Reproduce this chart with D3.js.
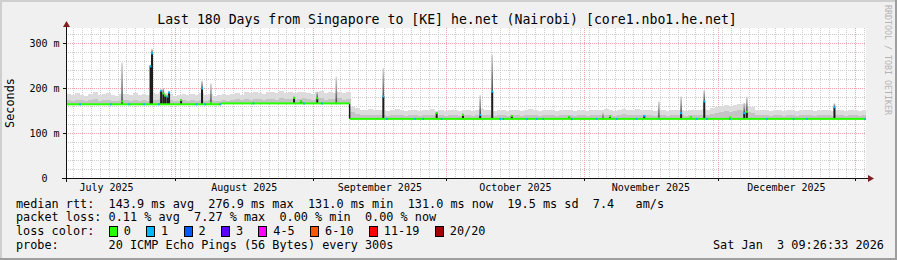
<!DOCTYPE html>
<html>
<head>
<meta charset="utf-8">
<script src="https://cdn.jsdelivr.net/npm/d3@7/dist/d3.min.js"></script>
<style>
html, body { margin: 0; padding: 0; background: #f0f0f0; }
svg { display: block; font-family: "DejaVu Sans Mono", monospace; }
text { white-space: pre; }
</style>
</head>
<body>
<svg id="chart" width="897" height="260"></svg>
<script>
// time range of the graph (UTC)
var startTime = "2025-07-07T09:26:33Z",
    endTime = "2026-01-03T09:26:33Z";

var titleText = "Last 180 Days from Singapore to [KE] he.net (Nairobi) [core1.nbo1.he.net]";
var yAxisTitle = "Seconds";
var watermark = "RRDTOOL / TOBI OETIKER";

var yMax = 333.3;
var yTicks = [0, 100, 200, 300],
    yTickLabels = ["0  ", "100 m", "200 m", "300 m"];
var monthLabels = ["July 2025", "August 2025", "September 2025", "October 2025", "November 2025", "December 2025"];

// median rtt (ms) levels, changing at the break times
var medianBreaks = ["2025-08-11T07:00Z", "2025-09-09T05:00Z"],
    medianLevels = [163.8, 165.8, 131.3];

// daily smoke (ms): upper light band and inner darker band
var smokeHi = [
    186, 184, 189, 185, 183, 187, 190, 184, 186, 188,
    185, 183, 186, 187, 184, 188, 185, 186, 184, 189,
    187, 190, 188, 186, 183, 185, 187, 184, 186, 185,
    188, 184, 186, 183, 185, 187, 184, 186, 189, 185,
    190, 188, 191, 189, 187, 192, 190, 188, 193, 189,
    191, 188, 190, 192, 189, 187, 190, 193, 188, 191,
    189, 192, 188, 190, 158, 155, 152, 150, 153, 151,
    150, 152, 149, 151, 153, 150, 148, 152, 150, 149,
    151, 150, 153, 149, 151, 148, 150, 152, 149, 151,
    150, 148, 151, 153, 150, 152, 149, 151, 150, 148,
    152, 150, 149, 151, 153, 150, 148, 151, 152, 150,
    149, 151, 150, 152, 148, 150, 151, 149, 152, 150,
    151, 153, 150, 149, 152, 154, 151, 150, 153, 151,
    150, 152, 149, 151, 150, 148, 152, 150, 151, 149,
    150, 152, 151, 153, 150, 156, 158, 160, 162, 160,
    163, 165, 164, 160, 157, 152, 150, 151, 149, 152,
    150, 148, 151, 150, 149, 151, 150, 152, 149, 151,
    150, 152, 149, 151, 150, 148, 151, 150, 149, 150
];
var smokeMid = [
    173, 172, 174, 173, 171, 173, 175, 172, 173, 174,
    172, 171, 173, 174, 172, 173, 172, 173, 171, 174,
    173, 175, 174, 173, 171, 172, 173, 172, 173, 172,
    174, 172, 173, 171, 172, 173, 172, 173, 175, 173,
    175, 174, 176, 175, 174, 176, 175, 174, 177, 175,
    176, 174, 175, 177, 175, 174, 176, 177, 174, 176,
    175, 177, 174, 175, 146, 143, 141, 140, 141, 140,
    139, 140, 138, 139, 141, 139, 138, 140, 139, 138,
    140, 139, 141, 138, 140, 138, 139, 140, 138, 140,
    139, 138, 140, 141, 139, 140, 138, 140, 139, 138,
    140, 139, 138, 140, 141, 139, 138, 140, 140, 139,
    138, 140, 139, 140, 138, 139, 140, 138, 140, 139,
    140, 141, 139, 138, 140, 142, 140, 139, 141, 140,
    139, 140, 138, 140, 139, 138, 140, 139, 140, 138,
    139, 140, 140, 141, 139, 143, 145, 146, 148, 146,
    149, 150, 149, 146, 144, 141, 139, 140, 138, 140,
    139, 138, 140, 139, 138, 140, 139, 140, 138, 140,
    139, 140, 138, 140, 139, 138, 140, 139, 138, 139
];

// latency spikes: time, median (ms), top of smoke (ms), lost pings
var spikeTimes = [
    "2025-07-20T00:00Z", "2025-07-26T10:00Z", "2025-07-26T18:00Z", "2025-07-28T19:00Z",
    "2025-07-29T07:00Z", "2025-07-29T17:00Z", "2025-07-30T05:00Z", "2025-07-30T14:00Z",
    "2025-08-02T07:00Z", "2025-08-07T00:00Z", "2025-08-09T00:00Z", "2025-08-27T17:00Z",
    "2025-08-29T07:00Z", "2025-09-01T22:00Z", "2025-09-06T05:00Z", "2025-09-16T19:00Z",
    "2025-09-28T19:00Z", "2025-10-04T17:00Z", "2025-10-08T14:00Z", "2025-10-11T07:00Z",
    "2025-10-15T17:00Z", "2025-10-28T14:00Z", "2025-11-05T05:00Z", "2025-11-06T19:00Z",
    "2025-11-14T12:00Z", "2025-11-17T19:00Z", "2025-11-22T19:00Z", "2025-11-25T00:00Z",
    "2025-11-28T00:00Z", "2025-12-03T19:00Z", "2025-12-07T00:00Z", "2025-12-07T14:00Z",
    "2025-12-27T07:00Z"
];
var spikeMedian = [170, 248, 276.9, 194, 188, 183, 181, 190, 173, 199, 167, 178, 171, 177, 166, 181,
    144, 140, 140, 192, 138, 136, 131, 137, 138, 132, 144, 135, 170, 135, 144, 147, 157];
var spikeTop = [256, 252, 287, 196, 200, 186, 184, 193, 176, 216, 210, 182, 174, 192, 225, 244,
    148, 144, 184, 274, 140, 138, 146, 140, 141, 170, 181, 138, 196, 137, 167, 181, 166];
var spikeLoss = [0, 1, 1, 1, 0, 0, 1, 1, 0, 1, 0, 0, 0, 0, 0, 1,
    0, 0, 1, 1, 0, 0, 0, 0, 1, 0, 1, 0, 1, 0, 1, 0, 1];

// times where the median line shows 1 lost ping
var lossOneTimes = [
    "2025-07-10T14:00Z", "2025-07-17T12:00Z", "2025-07-21T14:00Z", "2025-07-25T00:00Z",
    "2025-07-28T07:00Z", "2025-08-05T19:00Z", "2025-08-07T17:00Z", "2025-08-11T02:00Z",
    "2025-08-18T14:00Z", "2025-08-29T22:00Z", "2025-09-03T00:00Z", "2025-09-17T14:00Z",
    "2025-09-23T22:00Z", "2025-09-25T19:00Z", "2025-09-29T22:00Z", "2025-10-13T02:00Z",
    "2025-10-13T19:00Z", "2025-10-19T02:00Z", "2025-10-21T07:00Z", "2025-10-22T19:00Z",
    "2025-10-29T05:00Z", "2025-11-03T19:00Z", "2025-11-08T07:00Z", "2025-11-12T19:00Z",
    "2025-11-17T17:00Z", "2025-11-26T07:00Z", "2025-11-28T14:00Z", "2025-12-03T19:00Z",
    "2025-12-12T02:00Z", "2025-12-18T02:00Z", "2025-12-21T02:00Z", "2026-01-03T05:00Z"
];

var lossLabels = ["0", "1", "2", "3", "4-5", "6-10", "11-19", "20/20"],
    lossColors = ["#26ff00", "#00b8ff", "#0059ff", "#5e00ff", "#ff00ff", "#ff5500", "#ff0000", "#a10000"];

var statLines = [
    "median rtt:  143.9 ms avg  276.9 ms max  131.0 ms min  131.0 ms now  19.5 ms sd  7.4   am/s",
    "packet loss: 0.11 % avg  7.27 % max  0.00 % min  0.00 % now",
    "loss color:",
    "probe:       20 ICMP Echo Pings (56 Bytes) every 300s"
];
var stampText = "Sat Jan  3 09:26:33 2026";

var W = 897, H = 260,
    plot = { left: 66, right: 866, top: 28, bottom: 178 },
    legendFont = 11.84,
    charW = legendFont * 0.602,
    DAY = 864e5;

var t0 = new Date(startTime), t1 = new Date(endTime);
var x = d3.scaleUtc().domain([t0, t1]).range([plot.left, plot.right]),
    y = d3.scaleLinear().domain([0, yMax]).range([plot.bottom, plot.top]);

var breaks = medianBreaks.map(function (s) { return new Date(s); });
var medianAt = function (t) { return medianLevels[d3.bisectRight(breaks, t)]; };

var svg = d3.select("#chart");

// background + shaded frame
svg.append("rect").attr("width", W).attr("height", H).attr("fill", "#f0f0f0");
svg.append("rect").attr("x", 0).attr("y", 0).attr("width", W).attr("height", 2).attr("fill", "#cfcfcf");
svg.append("rect").attr("x", 0).attr("y", 0).attr("width", 2).attr("height", H).attr("fill", "#cfcfcf");
svg.append("rect").attr("x", 0).attr("y", H - 2).attr("width", W).attr("height", 2).attr("fill", "#9e9e9e");
svg.append("rect").attr("x", W - 2).attr("y", 0).attr("width", 2).attr("height", H).attr("fill", "#9e9e9e");

svg.append("rect")
    .attr("x", plot.left).attr("y", plot.top)
    .attr("width", plot.right - plot.left).attr("height", plot.bottom - plot.top)
    .attr("fill", "#ffffff");

// grid
var grid = svg.append("g").attr("shape-rendering", "crispEdges").attr("stroke-dasharray", "1,1");
var minorY = d3.range(20, yMax, 20).filter(function (v) { return v % 100 !== 0; });
grid.selectAll(".gy").data(minorY).enter().append("line")
    .attr("x1", plot.left).attr("x2", plot.right)
    .attr("y1", function (d) { return Math.round(y(d)) + 0.5; })
    .attr("y2", function (d) { return Math.round(y(d)) + 0.5; })
    .attr("stroke", "#cdcdcd");
// minor vertical grid every 2 days, aligned to even epoch days
var minorX = d3.utcDay.range(t0, t1).filter(function (d) { return Math.round(d / DAY) % 2 === 0; });
grid.selectAll(".gx").data(minorX).enter().append("line")
    .attr("y1", plot.top).attr("y2", plot.bottom)
    .attr("x1", function (d) { return Math.round(x(d)) + 0.5; })
    .attr("x2", function (d) { return Math.round(x(d)) + 0.5; })
    .attr("stroke", "#cdcdcd");
grid.selectAll(".my").data(yTicks.slice(1)).enter().append("line")
    .attr("x1", plot.left).attr("x2", plot.right)
    .attr("y1", function (d) { return Math.round(y(d)) + 0.5; })
    .attr("y2", function (d) { return Math.round(y(d)) + 0.5; })
    .attr("stroke", "#eea4a4");
var months = d3.utcMonth.range(t0, t1);
grid.selectAll(".mx").data(months).enter().append("line")
    .attr("y1", plot.top).attr("y2", plot.bottom)
    .attr("x1", function (d) { return Math.round(x(d)) + 0.5; })
    .attr("x2", function (d) { return Math.round(x(d)) + 0.5; })
    .attr("stroke", "#eea4a4");

// smoke, one bar per day
var days = d3.range(smokeHi.length).map(function (i) {
    var a = new Date(+t0 + i * DAY), b = new Date(+t0 + (i + 1) * DAY);
    return { a: a, b: b, hi: smokeHi[i], mid: smokeMid[i], med: medianAt(a) };
});
var smoke = svg.append("g").attr("shape-rendering", "crispEdges");
smoke.selectAll(".hi").data(days).enter().append("rect")
    .attr("x", function (d) { return x(d.a); })
    .attr("width", function (d) { return Math.min(x(d.b), plot.right) - x(d.a) + 0.4; })
    .attr("y", function (d) { return y(d.hi); })
    .attr("height", function (d) { return y(d.med) - y(d.hi); })
    .attr("fill", "#dcdcdc");
smoke.selectAll(".mid").data(days).enter().append("rect")
    .attr("x", function (d) { return x(d.a); })
    .attr("width", function (d) { return Math.min(x(d.b), plot.right) - x(d.a) + 0.4; })
    .attr("y", function (d) { return y(d.mid); })
    .attr("height", function (d) { return y(d.med) - y(d.mid); })
    .attr("fill", "#c4c4c4");

// spikes
var spikes = spikeTimes.map(function (s, i) {
    var t = new Date(s);
    return { t: t, med: spikeMedian[i], top: spikeTop[i], loss: spikeLoss[i], base: medianAt(t) };
});
var defs = svg.append("defs");
var grad = defs.append("linearGradient").attr("id", "spikeSmoke")
    .attr("x1", 0).attr("y1", 1).attr("x2", 0).attr("y2", 0);
grad.append("stop").attr("offset", "0%").attr("stop-color", "#4a4a4a");
grad.append("stop").attr("offset", "100%").attr("stop-color", "#d4d4d4");

svg.selectAll(".ss").data(spikes).enter().append("rect")
    .attr("x", function (d) { return x(d.t) - 0.8; })
    .attr("width", 1.6)
    .attr("y", function (d) { return y(d.top); })
    .attr("height", function (d) { return Math.max(0, y(d.med) - y(d.top)); })
    .attr("fill", "url(#spikeSmoke)");
svg.selectAll(".sb").data(spikes).enter().append("rect")
    .attr("x", function (d) { return x(d.t) - 1; })
    .attr("width", 2)
    .attr("y", function (d) { return y(d.med); })
    .attr("height", function (d) { return Math.max(0, y(d.base) - y(d.med)); })
    .attr("fill", "#1c1c1c");

// median line
var segBounds = [t0].concat(breaks, [t1]);
var segs = medianLevels.map(function (v, i) { return { a: segBounds[i], b: segBounds[i + 1], v: v }; });
svg.selectAll(".step").data(breaks).enter().append("rect")
    .attr("x", function (d) { return x(d) - 0.75; })
    .attr("width", 1.5)
    .attr("y", function (d, i) { return Math.min(y(medianLevels[i]), y(medianLevels[i + 1])); })
    .attr("height", function (d, i) { return Math.abs(y(medianLevels[i]) - y(medianLevels[i + 1])); })
    .attr("fill", "#1c1c1c");
svg.selectAll(".med").data(segs).enter().append("rect")
    .attr("x", function (d) { return x(d.a); })
    .attr("width", function (d) { return x(d.b) - x(d.a); })
    .attr("y", function (d) { return y(d.v) - 1; })
    .attr("height", 2)
    .attr("fill", lossColors[0]);

svg.selectAll(".l1").data(lossOneTimes.map(function (s) { return new Date(s); })).enter().append("rect")
    .attr("x", function (d) { return x(d) - 0.8; })
    .attr("width", 1.6)
    .attr("y", function (d) { return y(medianAt(d)) - 1; })
    .attr("height", 2)
    .attr("fill", lossColors[1]);

svg.selectAll(".cap").data(spikes).enter().append("rect")
    .attr("x", function (d) { return x(d.t) - 1; })
    .attr("width", 2)
    .attr("y", function (d) { return y(d.med) - 1; })
    .attr("height", 2)
    .attr("fill", function (d) { return lossColors[d.loss]; });

// axes
var axes = svg.append("g").attr("shape-rendering", "crispEdges").attr("stroke", "#101010");
axes.append("line").attr("x1", plot.left - 4).attr("x2", plot.right + 3)
    .attr("y1", plot.bottom + 0.5).attr("y2", plot.bottom + 0.5);
axes.append("line").attr("x1", plot.left + 0.5).attr("x2", plot.left + 0.5)
    .attr("y1", plot.bottom + 4).attr("y2", plot.top - 2);
axes.selectAll(".yt").data(yTicks).enter().append("line")
    .attr("x1", plot.left - 3).attr("x2", plot.left)
    .attr("y1", function (d) { return Math.round(y(d)) + 0.5; })
    .attr("y2", function (d) { return Math.round(y(d)) + 0.5; });
axes.selectAll(".xt").data(months).enter().append("line")
    .attr("y1", plot.bottom).attr("y2", plot.bottom + 3)
    .attr("x1", function (d) { return Math.round(x(d)) + 0.5; })
    .attr("x2", function (d) { return Math.round(x(d)) + 0.5; });

svg.append("path")
    .attr("d", "M" + (plot.left - 3) + "," + (plot.top - 1) + "L" + (plot.left + 4) + "," + (plot.top - 1) +
        "L" + (plot.left + 0.5) + "," + (plot.top - 7) + "Z")
    .attr("fill", "#7f1f1f");
svg.append("path")
    .attr("d", "M" + (plot.right + 2) + "," + (plot.bottom - 3) + "L" + (plot.right + 2) + "," + (plot.bottom + 4) +
        "L" + (plot.right + 8) + "," + (plot.bottom + 0.5) + "Z")
    .attr("fill", "#7f1f1f");

// tick labels
svg.selectAll(".yl").data(yTicks).enter().append("text")
    .attr("x", plot.left - 6.5)
    .attr("y", function (d) { return y(d) + 3.6; })
    .attr("text-anchor", "end")
    .attr("font-size", 10)
    .text(function (d, i) { return yTickLabels[i]; });
var monthSpans = d3.utcMonth.range(d3.utcMonth.floor(t0), t1);
svg.selectAll(".xl").data(monthSpans).enter().append("text")
    .attr("x", function (d) { return x(new Date((+d + +d3.utcMonth.offset(d, 1)) / 2)); })
    .attr("y", plot.bottom + 12.5)
    .attr("text-anchor", "middle")
    .attr("font-size", 10)
    .text(function (d, i) { return monthLabels[i]; });

// titles
svg.append("text").attr("x", 447).attr("y", 24).attr("text-anchor", "middle")
    .attr("font-size", 13.2).text(titleText);
svg.append("text").attr("transform", "translate(14," + ((plot.top + plot.bottom) / 2) + ") rotate(-90)")
    .attr("text-anchor", "middle").attr("font-size", legendFont).text(yAxisTitle);
svg.append("text").attr("transform", "translate(884.5,5) rotate(90)")
    .attr("font-size", 8.3).attr("fill", "#b4b4b4").text(watermark);

// legend
var lineY = [207.5, 221.3, 235.1, 248.9];
svg.selectAll(".stat").data(statLines).enter().append("text")
    .attr("x", 16).attr("y", function (d, i) { return lineY[i]; })
    .attr("font-size", legendFont)
    .text(function (d) { return d; });

var bx = 16 + 13 * charW;
lossLabels.forEach(function (lab, i) {
    svg.append("rect")
        .attr("x", Math.round(bx) + 0.5).attr("y", 226.5)
        .attr("width", 8).attr("height", 10)
        .attr("fill", lossColors[i]).attr("stroke", "#000").attr("stroke-width", 1);
    svg.append("text").attr("x", bx + 15).attr("y", lineY[2])
        .attr("font-size", legendFont).text(lab);
    bx = bx + 15 + lab.length * charW + 15.3;
});

svg.append("text").attr("x", 713).attr("y", lineY[3])
    .attr("font-size", legendFont).text(stampText);
</script>
</body>
</html>
